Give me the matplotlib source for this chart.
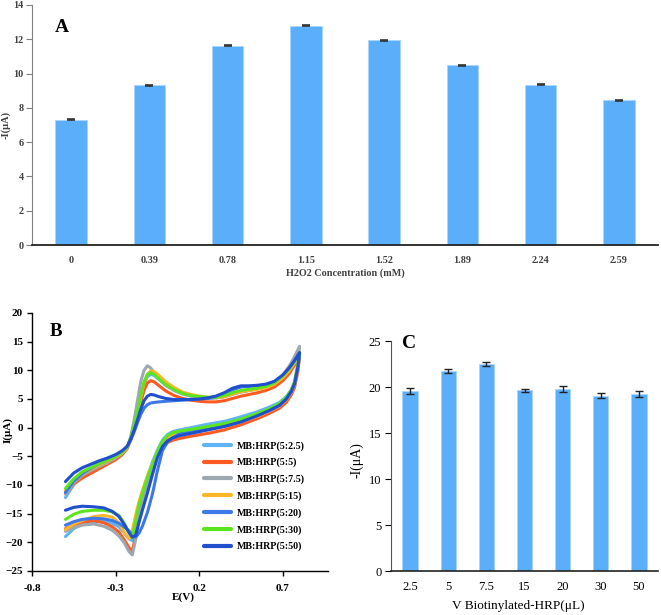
import matplotlib
matplotlib.use("Agg")
from matplotlib import pyplot as plt

plt.rcParams['font.family'] = ['Liberation Serif', 'DejaVu Serif']

# ---- panel A : current vs H2O2 concentration
h2o2_labels = ['0', '0.39', '0.78', '1.15', '1.52', '1.89', '2.24', '2.59']
h2o2_current = [7.31, 9.33, 11.62, 12.78, 11.93, 10.49, 9.35, 8.45]
h2o2_err = [0.03, 0.03, 0.03, 0.03, 0.02, 0.03, 0.03, 0.03]

# ---- panel C : current vs volume of biotinylated HRP
hrp_labels = ['2.5', '5', '7.5', '15', '20', '30', '50']
hrp_current = [19.55, 21.75, 22.5, 19.63, 19.8, 19.07, 19.25]
hrp_err = [0.35, 0.2, 0.25, 0.17, 0.3, 0.25, 0.35]

# ---- panel B : cyclic voltammograms
e_fwd = [-0.60, -0.55, -0.50, -0.45, -0.40, -0.35, -0.30, -0.26, -0.23, -0.21,
         -0.19, -0.17, -0.15, -0.13, -0.11, -0.09, -0.07, -0.04, 0.00, 0.05,
         0.10, 0.15, 0.20, 0.25, 0.30, 0.35, 0.40, 0.45, 0.50, 0.55,
         0.60, 0.65, 0.70, 0.74, 0.77, 0.80]
e_rev = [0.80, 0.79, 0.77, 0.75, 0.72, 0.68, 0.62, 0.55, 0.45, 0.35,
         0.25, 0.15, 0.08, 0.04, 0.01, -0.02, -0.05, -0.08, -0.11, -0.14,
         -0.16, -0.18, -0.20, -0.22, -0.25, -0.28, -0.32, -0.37, -0.43, -0.50,
         -0.55, -0.60]

cv_names = ['MB:HRP(5:2.5)', 'MB:HRP(5:5)', 'MB:HRP(5:7.5)', 'MB:HRP(5:15)',
            'MB:HRP(5:20)', 'MB:HRP(5:30)', 'MB:HRP(5:50)']
cv_colors = ['#5fb4f5', '#ff5a22', '#9ea8b0', '#fdb62a', '#3d78e6', '#5ce41e', '#1f4fcc']

fwd_2p5 = [-12.2, -9.9, -8.6, -7.6, -6.8, -6.0, -5.2, -4.4, -3.4, -1.9,
           0.2, 2.6, 5.3, 7.6, 8.9, 9.3, 9.1, 8.4, 7.4, 6.5,
           5.9, 5.5, 5.3, 5.2, 5.2, 5.4, 5.9, 6.3, 6.5, 6.8,
           7.1, 7.7, 8.8, 10.0, 11.3, 12.7]
fwd_5 = [-11.5, -9.8, -8.8, -8.0, -7.2, -6.4, -5.6, -4.7, -3.6, -2.2,
         -0.3, 2.0, 4.4, 6.5, 7.8, 8.2, 8.0, 7.3, 6.4, 5.6,
         5.1, 4.8, 4.6, 4.5, 4.5, 4.7, 5.1, 5.5, 5.8, 6.1,
         6.5, 7.1, 8.2, 9.5, 10.9, 12.5]
fwd_7p5 = [-11.6, -9.6, -8.3, -7.5, -6.8, -6.1, -5.3, -4.5, -3.4, -1.6,
           1.2, 4.6, 8.0, 10.0, 10.8, 10.4, 9.6, 8.5, 7.4, 6.5,
           5.9, 5.5, 5.3, 5.2, 5.2, 5.4, 5.8, 6.2, 6.5, 6.8,
           7.2, 7.9, 9.2, 10.8, 12.4, 14.2]
fwd_15 = [-11.0, -9.2, -8.0, -7.2, -6.5, -5.8, -5.1, -4.4, -3.4, -2.0,
          0.0, 2.4, 5.2, 7.8, 9.3, 9.9, 9.8, 9.1, 8.0, 7.0,
          6.2, 5.8, 5.5, 5.3, 5.2, 5.4, 5.9, 6.3, 6.5, 6.7,
          7.0, 7.6, 8.7, 10.0, 11.3, 12.8]
fwd_20 = [-11.3, -9.3, -8.0, -7.1, -6.3, -5.6, -4.9, -4.2, -3.3, -2.2,
          -0.8, 0.8, 2.3, 3.4, 4.0, 4.3, 4.4, 4.5, 4.6, 4.7,
          4.8, 4.9, 5.0, 5.1, 5.3, 5.8, 6.6, 7.1, 7.2, 7.3,
          7.5, 8.0, 9.1, 10.4, 11.7, 13.0]
fwd_30 = [-10.6, -8.9, -7.7, -7.0, -6.3, -5.7, -5.0, -4.3, -3.3, -1.8,
          0.3, 2.8, 5.6, 8.0, 9.3, 9.6, 9.3, 8.5, 7.5, 6.6,
          6.0, 5.6, 5.4, 5.3, 5.3, 5.6, 6.1, 6.5, 6.7, 6.9,
          7.2, 7.8, 9.0, 10.3, 11.6, 13.0]
fwd_50 = [-9.4, -7.9, -7.0, -6.4, -5.8, -5.3, -4.7, -4.0, -3.2, -2.0,
          -0.5, 1.3, 3.2, 4.7, 5.5, 5.8, 5.7, 5.4, 5.1, 4.9,
          4.9, 4.9, 5.0, 5.2, 5.5, 6.1, 6.9, 7.3, 7.3, 7.4,
          7.6, 8.1, 9.2, 10.5, 11.7, 13.1]

rev_2p5 = [12.7, 10.3, 7.7, 6.5, 5.4, 4.4, 3.6, 2.8, 1.9, 1.1,
           0.6, 0.0, -0.4, -0.7, -1.2, -2.2, -3.9, -6.0, -8.5, -11.2,
           -13.4, -16.6, -19.7, -19.4, -18.3, -17.3, -16.7, -16.3, -16.4, -16.9,
           -17.6, -19.0]
rev_5 = [12.5, 9.8, 7.0, 5.7, 4.4, 3.4, 2.5, 1.6, 0.5, -0.4,
         -1.0, -1.5, -1.9, -2.2, -2.6, -3.4, -5.0, -7.2, -9.8, -12.6,
         -15.0, -18.8, -21.5, -20.9, -19.5, -18.2, -17.3, -16.6, -16.2, -16.5,
         -17.0, -17.6]
rev_7p5 = [14.2, 11.2, 8.0, 6.5, 5.1, 4.0, 3.0, 2.2, 1.1, 0.3,
           -0.2, -0.8, -1.2, -1.6, -2.2, -3.2, -5.0, -7.5, -10.2, -13.0,
           -15.6, -19.5, -22.2, -21.6, -20.0, -18.9, -17.9, -17.2, -16.8, -17.0,
           -17.4, -18.1]
rev_15 = [12.8, 10.2, 7.5, 6.1, 4.9, 3.8, 2.9, 2.0, 1.0, 0.2,
          -0.3, -0.8, -1.1, -1.4, -1.8, -2.7, -4.3, -6.3, -8.5, -11.0,
          -12.9, -15.2, -18.0, -19.4, -18.2, -16.6, -15.6, -15.3, -15.5, -16.2,
          -16.8, -17.8]
rev_20 = [13.0, 10.5, 7.6, 6.2, 5.0, 3.9, 3.0, 2.2, 1.2, 0.4,
          -0.1, -0.7, -1.1, -1.8, -2.5, -4.0, -7.5, -11.6, -14.8, -17.2,
          -18.4, -19.1, -18.7, -18.0, -17.3, -16.7, -16.2, -15.9, -15.8, -16.0,
          -16.4, -17.0]
rev_30 = [13.0, 10.8, 8.0, 6.6, 5.3, 4.2, 3.3, 2.5, 1.5, 0.7,
          0.2, -0.3, -0.6, -0.9, -1.4, -2.4, -4.2, -6.5, -8.8, -11.5,
          -13.5, -16.3, -19.1, -18.3, -16.6, -15.3, -14.7, -14.4, -14.4, -14.6,
          -15.1, -16.0]
rev_50 = [13.1, 10.6, 7.7, 6.3, 5.0, 3.9, 3.0, 2.1, 1.0, 0.2,
          -0.4, -1.0, -1.4, -1.8, -2.3, -3.3, -5.2, -8.2, -11.4, -14.4,
          -16.5, -18.8, -19.1, -18.3, -16.8, -15.5, -14.6, -14.0, -13.8, -13.7,
          -13.9, -14.4]

cv_fwd = [fwd_2p5, fwd_5, fwd_7p5, fwd_15, fwd_20, fwd_30, fwd_50]
cv_rev = [rev_2p5, rev_5, rev_7p5, rev_15, rev_20, rev_30, rev_50]

bar_color = '#5aaefa'
W, H = 661, 615

fig = plt.figure(figsize=(W / 100, H / 100), dpi=100)


def box(x0, y0, x1, y1):
    # pixel box (top-left origin) -> figure fraction rect
    return [x0 / W, 1 - y1 / H, (x1 - x0) / W, (y1 - y0) / H]


# ------------------------------------------------------------------ A
axA = fig.add_axes(box(32, 5, 658, 245))
xa = range(len(h2o2_labels))
axA.bar(xa, h2o2_current, width=0.4, color=bar_color, edgecolor='#a8d6ff', linewidth=0.6)
axA.errorbar(xa, h2o2_current, yerr=h2o2_err, fmt='none', ecolor='#333333',
             elinewidth=0.8, capsize=3, capthick=1.2)
axA.set_xlim(-0.5, len(h2o2_labels) - 0.5)
axA.set_ylim(0, 14)
axA.set_yticks(range(0, 15, 2))
axA.set_xticks(list(xa))
axA.set_xticklabels(h2o2_labels)
for s in ['top', 'right']:
    axA.spines[s].set_visible(False)
axA.spines['left'].set_color('#808080')
axA.spines['left'].set_linewidth(0.8)
axA.spines['bottom'].set_color('#222222')
axA.spines['bottom'].set_linewidth(1.3)
axA.tick_params(axis='y', length=4, width=0.8, color='#808080', pad=2,
                labelsize=7.3, labelcolor='#404040')
axA.tick_params(axis='x', length=0, pad=8, labelsize=7.3, labelcolor='#404040')
for t in axA.get_xticklabels() + axA.get_yticklabels():
    t.set_fontweight('bold')
fig.text(6 / W, 1 - 125 / H, '-I(μA)', rotation=90, ha='center', va='center',
         fontsize=7.5, fontweight='bold', color='#404040')
fig.text(345 / W, 1 - 273 / H, 'H2O2 Concentration (mM)', ha='center', va='center',
         fontsize=7.3, fontweight='bold', color='#404040')
fig.text(55 / W, 1 - 27 / H, 'A', ha='left', va='center', fontsize=14, fontweight='bold')

# ------------------------------------------------------------------ B
axB = fig.add_axes(box(32, 313, 328, 571))
for name, col, f, r in zip(cv_names, cv_colors, cv_fwd, cv_rev):
    axB.plot(e_fwd + e_rev, f + r, color=col, lw=2.2, label=name,
             solid_capstyle='round', solid_joinstyle='round')
axB.set_xlim(-0.8, 0.97)
axB.set_ylim(-25, 20)
axB.set_xticks([-0.8, -0.3, 0.2, 0.7])
axB.set_xticklabels(['-0.8', '-0.3', '0.2', '0.7'])
axB.set_yticks(range(-25, 21, 5))
for s in ['top', 'right']:
    axB.spines[s].set_visible(False)
for s in ['left', 'bottom']:
    axB.spines[s].set_linewidth(1.0)
axB.tick_params(length=3.5, width=1.0, pad=3, labelsize=8)
axB.tick_params(axis='x', pad=6)
for t in axB.get_xticklabels() + axB.get_yticklabels():
    t.set_fontweight('bold')
fig.text(8 / W, 1 - 430 / H, 'I(μA)', rotation=90, ha='center', va='center',
         fontsize=8, fontweight='bold')
fig.text(183 / W, 1 - 597 / H, 'E(V)', ha='center', va='center',
         fontsize=8, fontweight='bold')
fig.text(50 / W, 1 - 332 / H, 'B', ha='left', va='center', fontsize=13.5, fontweight='bold')
leg = axB.legend(loc='upper left', bbox_to_anchor=(204 / W, 1 - 441 / H),
                 bbox_transform=fig.transFigure, frameon=False, borderpad=0,
                 borderaxespad=0, handlelength=2.7, handletextpad=0.6,
                 labelspacing=0.72, prop={'size': 7.2, 'weight': 'bold'})
for ln in leg.get_lines():
    ln.set_linewidth(3)

# ------------------------------------------------------------------ C
axC = fig.add_axes(box(391, 341, 658, 571))
xc = range(len(hrp_labels))
axC.bar(xc, hrp_current, width=0.4, color=bar_color, edgecolor='#a8d6ff', linewidth=0.6)
axC.errorbar(xc, hrp_current, yerr=hrp_err, fmt='none', ecolor='#222222',
             elinewidth=1.0, capsize=3, capthick=1.0)
axC.set_xlim(-0.5, len(hrp_labels) - 0.5)
axC.set_ylim(0, 25)
axC.set_yticks(range(0, 26, 5))
axC.set_xticks(list(xc))
axC.set_xticklabels(hrp_labels)
for s in ['top', 'right']:
    axC.spines[s].set_visible(False)
axC.spines['left'].set_color('#555555')
axC.spines['left'].set_linewidth(0.8)
axC.spines['bottom'].set_color('#222222')
axC.spines['bottom'].set_linewidth(1.2)
axC.tick_params(axis='y', length=4, width=0.8, pad=3, labelsize=9)
axC.tick_params(axis='x', length=0, pad=7, labelsize=9)
fig.text(357 / W, 1 - 460 / H, '-I(μA)', rotation=90, ha='center', va='center', fontsize=10)
fig.text(518 / W, 1 - 606 / H, 'V Biotinylated-HRP(μL)', ha='center', va='center',
         fontsize=9.5)
fig.text(402 / W, 1 - 343 / H, 'C', ha='left', va='center', fontsize=14, fontweight='bold')

fig.savefig('out.png', dpi=100)
